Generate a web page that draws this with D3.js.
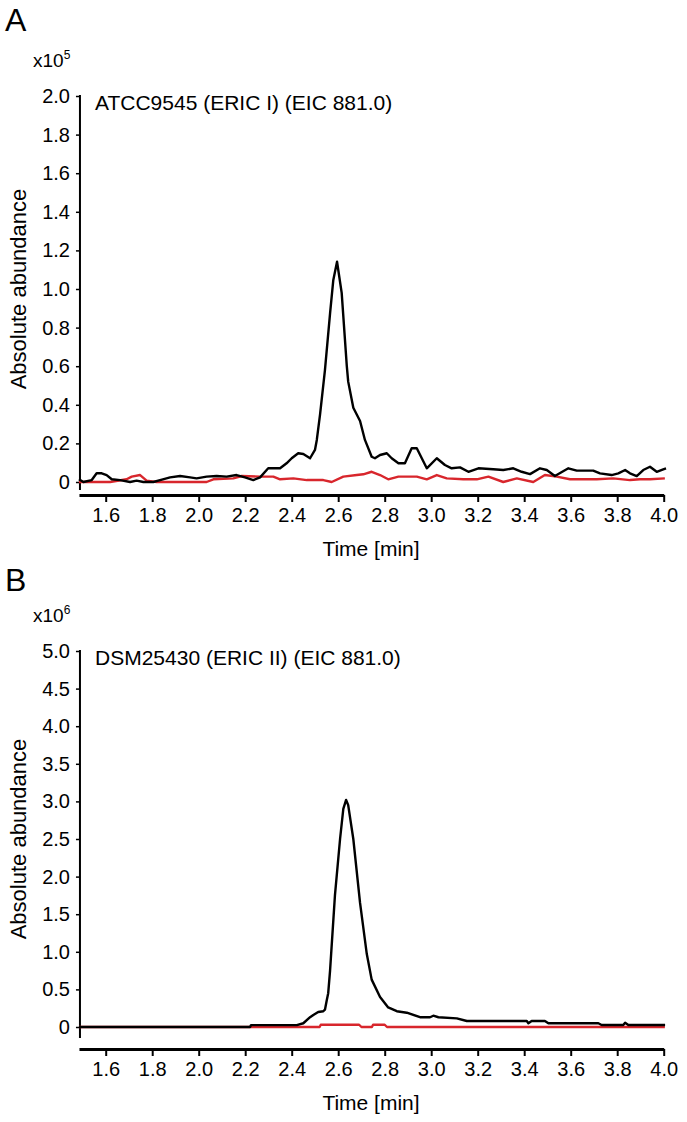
<!DOCTYPE html>
<html>
<head>
<meta charset="utf-8">
<script src="https://cdn.jsdelivr.net/npm/d3@7"></script>
<style>
  html, body { margin: 0; padding: 0; background: #fff; }
  svg { display: block; font-family: "Liberation Sans", Arial, sans-serif; }
</style>
</head>
<body>
<svg id="chart" width="687" height="1122"></svg>
<script>
// ---------- Data ----------
const xTicks = [1.6, 1.8, 2.0, 2.2, 2.4, 2.6, 2.8, 3.0, 3.2, 3.4, 3.6, 3.8, 4.0];
const yTicksA = [0, 0.2, 0.4, 0.6, 0.8, 1.0, 1.2, 1.4, 1.6, 1.8, 2.0];
const yTicksB = [0, 0.5, 1.0, 1.5, 2.0, 2.5, 3.0, 3.5, 4.0, 4.5, 5.0];

// Panel A (x10^5) – sample trace (black)
const timeA_sample = [1.485,1.504,1.540,1.561,1.583,1.604,1.626,1.662,1.705,1.733,1.762,1.805,1.834,1.877,1.920,1.963,1.991,2.034,2.077,2.120,2.163,2.199,2.235,2.264,2.299,2.350,2.378,2.400,2.428,2.450,2.479,2.500,2.508,2.522,2.543,2.565,2.579,2.595,2.615,2.637,2.643,2.665,2.694,2.715,2.744,2.758,2.780,2.809,2.830,2.859,2.887,2.916,2.938,2.981,3.024,3.059,3.088,3.124,3.160,3.203,3.267,3.310,3.353,3.389,3.425,3.468,3.497,3.532,3.590,3.626,3.697,3.726,3.776,3.805,3.834,3.855,3.884,3.912,3.941,3.970,3.998,4.010];
const valA_sample  = [0.014,0.0,0.01,0.045,0.045,0.036,0.014,0.01,0.0,0.007,0.0,0.0,0.01,0.024,0.031,0.024,0.019,0.028,0.031,0.028,0.036,0.024,0.01,0.024,0.071,0.071,0.097,0.123,0.149,0.145,0.123,0.166,0.218,0.350,0.58,0.874,1.047,1.141,0.98,0.60,0.52,0.385,0.316,0.218,0.131,0.123,0.14,0.149,0.123,0.097,0.097,0.175,0.175,0.071,0.123,0.088,0.071,0.076,0.053,0.071,0.066,0.062,0.071,0.053,0.041,0.071,0.062,0.031,0.071,0.059,0.059,0.045,0.036,0.045,0.062,0.045,0.031,0.062,0.079,0.053,0.066,0.071];

// Panel A – control trace (red)
const timeA_control = [1.485,1.619,1.690,1.712,1.748,1.776,1.819,2.034,2.063,2.149,2.185,2.264,2.321,2.350,2.407,2.465,2.536,2.572,2.622,2.680,2.708,2.744,2.780,2.815,2.859,2.938,2.981,3.024,3.067,3.138,3.196,3.246,3.310,3.368,3.439,3.489,3.540,3.597,3.712,3.783,3.855,3.898,3.941,4.005];
const valA_control  = [0,0,0.014,0.028,0.036,0.007,0,0,0.014,0.019,0.031,0.028,0.028,0.014,0.019,0.01,0.01,0,0.028,0.036,0.04,0.053,0.036,0.014,0.028,0.028,0.014,0.036,0.019,0.014,0.014,0.028,0,0.019,0,0.036,0.028,0.014,0.014,0.019,0.01,0.014,0.014,0.019];

// Panel B (x10^6) – sample trace (black)
const timeB_sample = [1.485,2.221,2.225,2.422,2.450,2.479,2.493,2.514,2.536,2.543,2.551,2.557,2.565,2.586,2.608,2.622,2.634,2.643,2.665,2.694,2.723,2.744,2.780,2.815,2.852,2.895,2.952,2.995,3.009,3.031,3.110,3.153,3.411,3.418,3.432,3.489,3.504,3.719,3.733,3.826,3.834,3.848,4.006];
const valB_sample  = [0,0,0.025,0.025,0.05,0.13,0.16,0.2,0.21,0.23,0.36,0.45,0.75,1.75,2.5,2.9,3.02,2.95,2.5,1.65,0.97,0.63,0.4,0.26,0.21,0.19,0.13,0.13,0.15,0.13,0.115,0.08,0.08,0.05,0.08,0.08,0.05,0.05,0.027,0.027,0.057,0.027,0.027];

// Panel B – control trace (red)
const timeB_control = [1.485,2.520,2.525,2.690,2.700,2.745,2.750,2.800,2.810,4.005];
const valB_control  = [0,0,0.03,0.03,0,0,0.03,0.03,0,0];

// ---------- Drawing ----------
const svg = d3.select("#chart");
const FONT = "Liberation Sans, Arial, sans-serif";
const xPix = d3.scaleLinear().domain([1.6, 4.0]).range([105.7, 663.7]);
const x = d3.scaleLinear().domain([1.485, 4.0]).range([xPix(1.485), xPix(4.0)]);

function panel(cfg) {
  const g = svg.append("g");
  // Panel letter
  g.append("text").attr("x", 5).attr("y", cfg.letterY)
    .attr("font-size", 32).attr("fill", "#000").text(cfg.letter);
  // Multiplier
  const m = g.append("text").attr("x", 33).attr("y", cfg.multY)
    .attr("font-size", 19).attr("fill", "#000");
  m.append("tspan").text("x10");
  m.append("tspan").attr("dy", -8).attr("font-size", 12).text(cfg.exp);

  const y = d3.scaleLinear().domain([0, cfg.yMax]).range([cfg.y0, cfg.yTop]);

  // y axis
  const yAxis = d3.axisLeft(y).tickValues(cfg.yTicks).tickSize(4).tickSizeOuter(0).tickPadding(6)
    .tickFormat(d => d === 0 ? "0" : d3.format(".1f")(d));
  const ya = g.append("g").attr("transform", `translate(${x.range()[0] + 1},0)`).call(yAxis);
  ya.select(".domain").remove();
  ya.append("line").attr("x1", 0).attr("x2", 0).attr("y1", cfg.yTop - 1).attr("y2", cfg.yAxisEnd)
    .attr("stroke", "#000").attr("stroke-width", 2);
  ya.selectAll(".tick line").attr("stroke", "#000").attr("stroke-width", 1.5);
  ya.selectAll(".tick text").attr("font-size", 20).attr("font-family", FONT).attr("fill", "#000");

  // x axis
  const xAxis = d3.axisBottom(x).tickValues(xTicks).tickSize(7).tickSizeOuter(0).tickPadding(6)
    .tickFormat(d3.format(".1f"));
  const xa = g.append("g").attr("transform", `translate(0,${cfg.xAxisY})`).call(xAxis);
  xa.select(".domain").attr("stroke", "#000").attr("stroke-width", 3.2);
  xa.selectAll(".tick line").attr("stroke", "#000").attr("stroke-width", 2);
  xa.selectAll(".tick text").attr("font-size", 20).attr("font-family", FONT).attr("fill", "#000");

  // axis titles
  g.append("text").attr("x", 371).attr("y", cfg.xAxisY + 61).attr("text-anchor", "middle")
    .attr("font-size", 21).attr("fill", "#000").text("Time [min]");
  g.append("text")
    .attr("transform", `translate(26,${(cfg.y0 + cfg.yTop) / 2}) rotate(-90)`)
    .attr("text-anchor", "middle").attr("font-size", 22).attr("fill", "#000")
    .text("Absolute abundance");

  // chart title
  g.append("text").attr("x", 95).attr("y", cfg.yTop + 14).attr("font-size", 21).attr("fill", "#000")
    .text(cfg.title);

  const line = d3.line().x(d => x(d[0])).y(d => y(d[1]));
  const ctrl = cfg.tc.map((t, i) => [t, cfg.vc[i]]);
  const samp = cfg.ts.map((t, i) => [t, cfg.vs[i]]);
  g.append("path").datum(ctrl).attr("d", line).attr("fill", "none")
    .attr("stroke", "#d8262c").attr("stroke-width", 2.4).attr("stroke-linejoin", "round");
  g.append("path").datum(samp).attr("d", line).attr("fill", "none")
    .attr("stroke", "#000").attr("stroke-width", 2.4).attr("stroke-linejoin", "round");
}

panel({
  letter: "A", letterY: 31, multY: 67, exp: "5",
  yMax: 2.0, yTop: 96, y0: 482, yAxisEnd: 490, xAxisY: 495,
  yTicks: yTicksA, title: "ATCC9545 (ERIC I) (EIC 881.0)",
  ts: timeA_sample, vs: valA_sample, tc: timeA_control, vc: valA_control
});
panel({
  letter: "B", letterY: 591, multY: 622, exp: "6",
  yMax: 5.0, yTop: 651, y0: 1027, yAxisEnd: 1038, xAxisY: 1049,
  yTicks: yTicksB, title: "DSM25430 (ERIC II) (EIC 881.0)",
  ts: timeB_sample, vs: valB_sample, tc: timeB_control, vc: valB_control
});
</script>
</body>
</html>
